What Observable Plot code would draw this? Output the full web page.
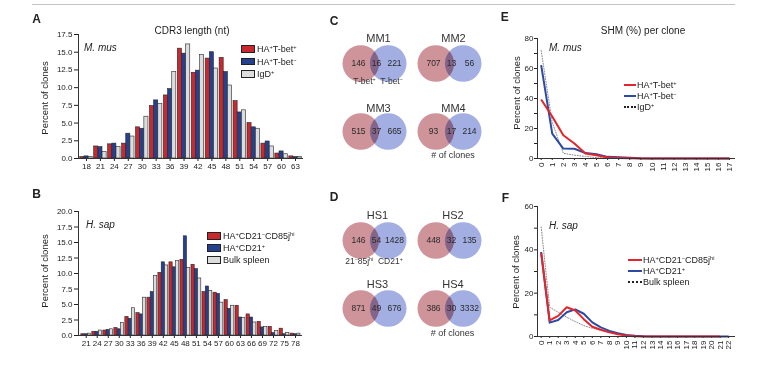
<!DOCTYPE html>
<html><head><meta charset="utf-8">
<script src="https://cdn.jsdelivr.net/npm/d3@7"></script>
<script src="https://cdn.jsdelivr.net/npm/@observablehq/plot@0.6"></script>
<style>
html,body{margin:0;padding:0;background:#fff;}
#fig{position:relative;width:765px;height:365px;overflow:hidden;background:#fff;font-family:"Liberation Sans",Arial,Helvetica,sans-serif;color:#222;}
.t{position:absolute;white-space:nowrap;line-height:1;}
.t sup{font-size:0.62em;vertical-align:0.5em;line-height:0;}
.p{position:absolute;}
.sw{position:absolute;box-sizing:border-box;border:0.8px solid #222;}
.ln{position:absolute;height:0;}
</style></head><body><div id="fig"></div>
<script>
// ---------- DATA ----------
// A: CDR3 length (nt), M. mus
const cdr3MusLengths = [18,21,24,27,30,33,36,39,42,45,48,51,54,57,60,63];
const musTbetPos = [0.2,1.7,2.0,2.1,4.4,7.4,8.9,15.5,12.1,14.1,14.2,8.1,5.0,2.1,0.7,0.3];
const musTbetNeg = [0.3,1.6,2.1,3.5,4.2,8.2,9.8,14.8,12.4,15.0,12.2,6.5,4.4,2.4,1.0,0.2];
const musIgD     = [0.2,0.9,1.6,3.1,5.9,7.7,12.2,16.1,14.6,12.7,10.3,6.8,4.2,1.7,0.6,0.2];
const musLabels  = ["HA<sup>+</sup>T-bet<sup>+</sup>","HA<sup>+</sup>T-bet<sup>−</sup>","IgD<sup>+</sup>"];

// B: CDR3 length (nt), H. sap
const cdr3HsLengths = [21,24,27,30,33,36,39,42,45,48,51,54,57,60,63,66,69,72,75,78];
const hsCD85 = [0.2,0.6,0.8,1.2,3.0,3.6,6.1,10.1,11.8,12.2,11.4,7.0,6.9,5.7,4.8,3.4,2.2,1.4,1.1,0.3];
const hsCD21 = [0.2,0.6,0.9,1.0,2.7,3.4,7.0,11.8,11.0,16.0,10.7,7.9,6.7,4.3,2.9,2.9,1.3,0.4,0.2,0.2];
const hsBulk = [0.3,0.8,1.0,2.0,4.4,6.1,9.6,11.3,12.0,10.9,9.2,7.2,5.3,4.8,2.8,2.1,1.4,0.7,0.4,0.3];
const hsLabels = ["HA<sup>+</sup>CD21<sup>−</sup>CD85j<sup>hi</sup>","HA<sup>+</sup>CD21<sup>+</sup>","Bulk spleen"];

// C / D: Venn clone counts
const vennMouseNames = ["MM1","MM2","MM3","MM4"];
const vennMouseLeft  = [146,707,515,93];
const vennMouseBoth  = [16,13,37,17];
const vennMouseRight = [221,56,665,214];
const vennHumanNames = ["HS1","HS2","HS3","HS4"];
const vennHumanLeft  = [146,448,871,386];
const vennHumanBoth  = [54,32,49,30];
const vennHumanRight = [1428,135,676,3332];

// E: SHM (%) per clone, M. mus
const shmMusX = [0,1,2,3,4,5,6,7,8,9,10,11,12,13,14,15,16,17];
const shmMusTbetPos = [39.3,28,15.5,10,3.3,2.2,0.7,0.4,0.2,0,0,0,0,0,0,0,0,0];
const shmMusTbetNeg = [62.3,16.6,6.6,6.5,3.6,2.8,1.1,0.8,0.5,0.1,0,0,0,0,0,0,0,0];
const shmMusIgD     = [72,24,3.5,2.2,1.4,0.6,0.3,0.2,0.1,0,0,0,0,0,0,0,0,0];

// F: SHM (%) per clone, H. sap
const shmHsX = [0,1,2,3,4,5,6,7,8,9,10,11,12,13,14,15,16,17,18,19,20,21,22];
const shmHsCD85 = [38.5,7.4,9.5,13.5,12,8,4.5,3.1,1.9,1.0,0.4,0.1,0,0,0,0,0,0,0,0,0,0];
const shmHsCD21 = [39,6.4,7.6,11.2,12.5,10.5,6.5,4.2,2.6,1.5,0.7,0.3,0.1,0,0,0,0,0,0,0,0,0,0];
const shmHsBulk = [50.5,13.5,11.2,8.9,6.9,5.0,3.8,2.8,2.0,1.2,0.6,0.3,0.1,0,0,0,0,0,0,0,0,0,0];

// ---------- STYLE ----------
const FONT = '"Liberation Sans", Arial, Helvetica, sans-serif';
const barRed = "#c8282e", barBlue = "#24408e", barGray = "#dcdcdc";
const lnRed = "#e3262b", lnBlue = "#2b4aa3", lnGray = "#8c8c8c";
const fig = document.getElementById("fig");

function label(html, x, y, o = {}) {
  const d = document.createElement("div");
  d.className = "t";
  d.innerHTML = html;
  d.style.left = x + "px"; d.style.top = y + "px";
  d.style.fontSize = (o.size || 9) + "px";
  if (o.weight) d.style.fontWeight = o.weight;
  if (o.italic) d.style.fontStyle = "italic";
  d.style.color = o.color || "#222";
  const a = o.anchor || "middle";
  const tx = a === "start" ? "0" : a === "end" ? "-100%" : "-50%";
  d.style.transform = `translate(${tx},-50%)` + (o.rotate ? ` rotate(${o.rotate}deg)` : "");
  fig.appendChild(d);
}
function mount(svg, left, top) {
  const d = document.createElement("div");
  d.className = "p"; d.style.left = left + "px"; d.style.top = top + "px";
  d.appendChild(svg); fig.appendChild(d);
}
function swatch(color, x, y) {
  const s = document.createElement("div");
  s.className = "sw"; s.style.left = x + "px"; s.style.top = (y - 3.8) + "px";
  s.style.width = "14px"; s.style.height = "7.6px"; s.style.background = color;
  fig.appendChild(s);
}
function lineKey(color, x, y, w, dotted) {
  const s = document.createElement("div");
  s.className = "ln"; s.style.left = x + "px"; s.style.top = (y - 1) + "px";
  s.style.width = w + "px";
  s.style.borderTop = dotted ? `2px dotted #222` : `2px solid ${color}`;
  fig.appendChild(s);
}
const plotStyle = {fontFamily: FONT, fontSize: "8px", color: "#222", background: "transparent", overflow: "visible"};

function barPanel({cats, series, xDomain, yMax, left, top, width, height, mt, mb, ml, mr}) {
  const offs = [-0.9, 0, 0.9], hw = 0.44;
  const marks = [];
  series.forEach((s, si) => {
    const data = cats.map((c, i) => ({c, v: s.values[i]}));
    marks.push(Plot.rect(data, {
      x1: d => d.c + offs[si] - hw, x2: d => d.c + offs[si] + hw,
      y1: () => 0, y2: "v", fill: s.color, stroke: "#262626", strokeWidth: 0.6
    }));
  });
  marks.push(Plot.ruleY([0], {stroke: "#333"}), Plot.ruleX([xDomain[0]], {stroke: "#333"}));
  const svg = Plot.plot({
    width, height, marginTop: mt, marginBottom: mb, marginLeft: ml, marginRight: mr,
    style: plotStyle,
    x: {domain: xDomain, ticks: cats, tickFormat: d3.format("d"), tickSize: 3, tickPadding: 2, label: null},
    y: {domain: [0, yMax], ticks: d3.range(0, yMax + 1e-6, 2.5), tickFormat: d3.format(".1f"), tickSize: 4, tickPadding: 2, label: null},
    marks
  });
  mount(svg, left, top);
}

function linePanel({xs, series, yMax, xDomain, left, top, width, height, mt, mb, ml, mr}) {
  const marks = [];
  series.forEach(s => {
    const data = s.values.map((v, i) => ({x: xs[i], v}));
    marks.push(Plot.line(data, {x: "x", y: "v", stroke: s.color, strokeWidth: s.width,
      strokeDasharray: s.dash, strokeLinejoin: "round", strokeLinecap: s.dash ? "round" : "butt"}));
  });
  marks.push(Plot.ruleY([0], {stroke: "#333"}), Plot.ruleX([xDomain[0]], {stroke: "#333"}));
  const svg = Plot.plot({
    width, height, marginTop: mt, marginBottom: mb, marginLeft: ml, marginRight: mr,
    style: plotStyle,
    x: {domain: xDomain, ticks: xs, tickFormat: d3.format("d"), tickSize: 2, tickPadding: 2, tickRotate: -90, label: null},
    y: {domain: [0, yMax], ticks: d3.range(0, yMax + 1e-6, 10), tickFormat: d => d % 20 === 0 ? d : "", tickSize: 3, tickPadding: 1, label: null},
    marks
  });
  mount(svg, left, top);
}

function vennPlot(a, ab, b, left, top) {
  const parts = [{k: "a", n: a}, {k: "ab", n: ab}, {k: "b", n: b}];
  const svg = Plot.plot({
    width: 80, height: 44, margin: 0,
    style: {...plotStyle, fontSize: "8.5px"},
    x: {type: "point", domain: ["a", "ab", "b"], range: [21, 58], padding: 0, align: 0.5, axis: null},
    marks: [
      Plot.dot(parts.filter(p => p.k === "a"), {x: "k", r: 18.3, fill: "#cf939a", dx: 2.3, mixBlendMode: "multiply"}),
      Plot.dot(parts.filter(p => p.k === "b"), {x: "k", r: 18.3, fill: "#a3aee2", dx: -6.3, mixBlendMode: "multiply"}),
      Plot.text(parts, {x: "k", text: d => String(d.n), fill: "#2a2a2a", fontSize: 8.5})
    ]
  });
  mount(svg, left, top);
}

// ---------- FIGURE ----------
// top rule
const rule = document.createElement("div");
Object.assign(rule.style, {position: "absolute", left: "32px", top: "4px", width: "703px", height: "1px", background: "#c4c4c4"});
fig.appendChild(rule);

// Panel A
barPanel({cats: cdr3MusLengths, xDomain: [16.28, 64.72], yMax: 17.5,
  series: [{values: musTbetPos, color: barRed}, {values: musTbetNeg, color: barBlue}, {values: musIgD, color: barGray}],
  left: 0, top: 0, width: 320, height: 180, mt: 34, mb: 22, ml: 78, mr: 17});
label("A", 36.5, 19.2, {size: 12, weight: "bold"});
label("CDR3 length (nt)", 192, 30.8, {size: 10});
label("M. mus", 84, 47.5, {size: 10, italic: true, anchor: "start"});
label("Percent of clones", 45, 97.5, {size: 9.5, rotate: -90});
[barRed, barBlue, barGray].forEach((c, i) => {
  swatch(c, 241, 49 + i * 12.6);
  label(musLabels[i], 257, 49 + i * 12.6, {size: 9, anchor: "start"});
});

// Panel B
barPanel({cats: cdr3HsLengths, xDomain: [18.9, 79.9], yMax: 20,
  series: [{values: hsCD85, color: barRed}, {values: hsCD21, color: barBlue}, {values: hsBulk, color: barGray}],
  left: 0, top: 180, width: 320, height: 180, mt: 31, mb: 25, ml: 78, mr: 18});
label("B", 36.5, 194, {size: 12, weight: "bold"});
label("H. sap", 86, 225, {size: 10, italic: true, anchor: "start"});
label("Percent of clones", 44.5, 271, {size: 9.5, rotate: -90});
[barRed, barBlue, barGray].forEach((c, i) => {
  swatch(c, 207, 236 + i * 12);
  label(hsLabels[i], 223, 236 + i * 12, {size: 9, anchor: "start"});
});

// Panel C
label("C", 334, 20.5, {size: 12, weight: "bold"});
vennMouseNames.forEach((name, i) => {
  const col = i % 2, row = Math.floor(i / 2);
  vennPlot(vennMouseLeft[i], vennMouseBoth[i], vennMouseRight[i], 336 + col * 75, 40.5 + row * 68);
  label(name, 378.5 + col * 75, 37.5 + row * 70.5, {size: 11, color: "#333"});
});
label("T-bet<sup>+</sup>&nbsp;&nbsp;T-bet<sup>−</sup>", 378, 81, {size: 8.5, color: "#333"});
label("# of clones", 453, 155, {size: 9, color: "#333"});

// Panel D
label("D", 334, 196.7, {size: 12, weight: "bold"});
vennHumanNames.forEach((name, i) => {
  const col = i % 2, row = Math.floor(i / 2);
  vennPlot(vennHumanLeft[i], vennHumanBoth[i], vennHumanRight[i], 336 + col * 75, 218 + row * 68);
  label(name, 377.5 + col * 75.5, 215 + row * 69, {size: 11, color: "#333"});
});
label("21<sup>−</sup>85j<sup>hi</sup>&nbsp;&nbsp;CD21<sup>+</sup>", 374, 261, {size: 8.5, color: "#333"});
label("# of clones", 452.5, 333, {size: 9, color: "#333"});

// Panel E
linePanel({xs: shmMusX, xDomain: [-0.33, 17.54], yMax: 80,
  series: [
    {values: shmMusIgD, color: lnGray, width: 1, dash: "1,1.6"},
    {values: shmMusTbetNeg, color: lnBlue, width: 2},
    {values: shmMusTbetPos, color: lnRed, width: 2}
  ],
  left: 500, top: 0, width: 265, height: 180, mt: 38, mb: 22, ml: 37, mr: 30});
label("E", 504.7, 17.2, {size: 12, weight: "bold"});
label("SHM (%) per clone", 643, 31, {size: 10});
label("M. mus", 549, 47.5, {size: 10, italic: true, anchor: "start"});
label("Percent of clones", 516.7, 93, {size: 9.5, rotate: -90});
[[lnRed, false], [lnBlue, false], ["#222", true]].forEach(([c, dot], i) => {
  lineKey(c, 624, 85 + i * 11.2, 12, dot);
  label(musLabels[i], 637, 85 + i * 11.2, {size: 9, anchor: "start"});
});

// Panel F
linePanel({xs: shmHsX, xDomain: [-0.43, 22.8], yMax: 60,
  series: [
    {values: shmHsBulk, color: lnGray, width: 1, dash: "1,1.6"},
    {values: shmHsCD21, color: lnBlue, width: 2},
    {values: shmHsCD85, color: lnRed, width: 2}
  ],
  left: 500, top: 180, width: 265, height: 180, mt: 26, mb: 24, ml: 37, mr: 30});
label("F", 505.5, 197.5, {size: 12, weight: "bold"});
label("H. sap", 549, 226, {size: 10, italic: true, anchor: "start"});
label("Percent of clones", 516.3, 271.7, {size: 9.5, rotate: -90});
[[lnRed, false], [lnBlue, false], ["#222", true]].forEach(([c, dot], i) => {
  lineKey(c, 628, 260 + i * 10.9, 14, dot);
  label(hsLabels[i], 643, 260 + i * 10.9, {size: 9, anchor: "start"});
});
</script></body></html>
